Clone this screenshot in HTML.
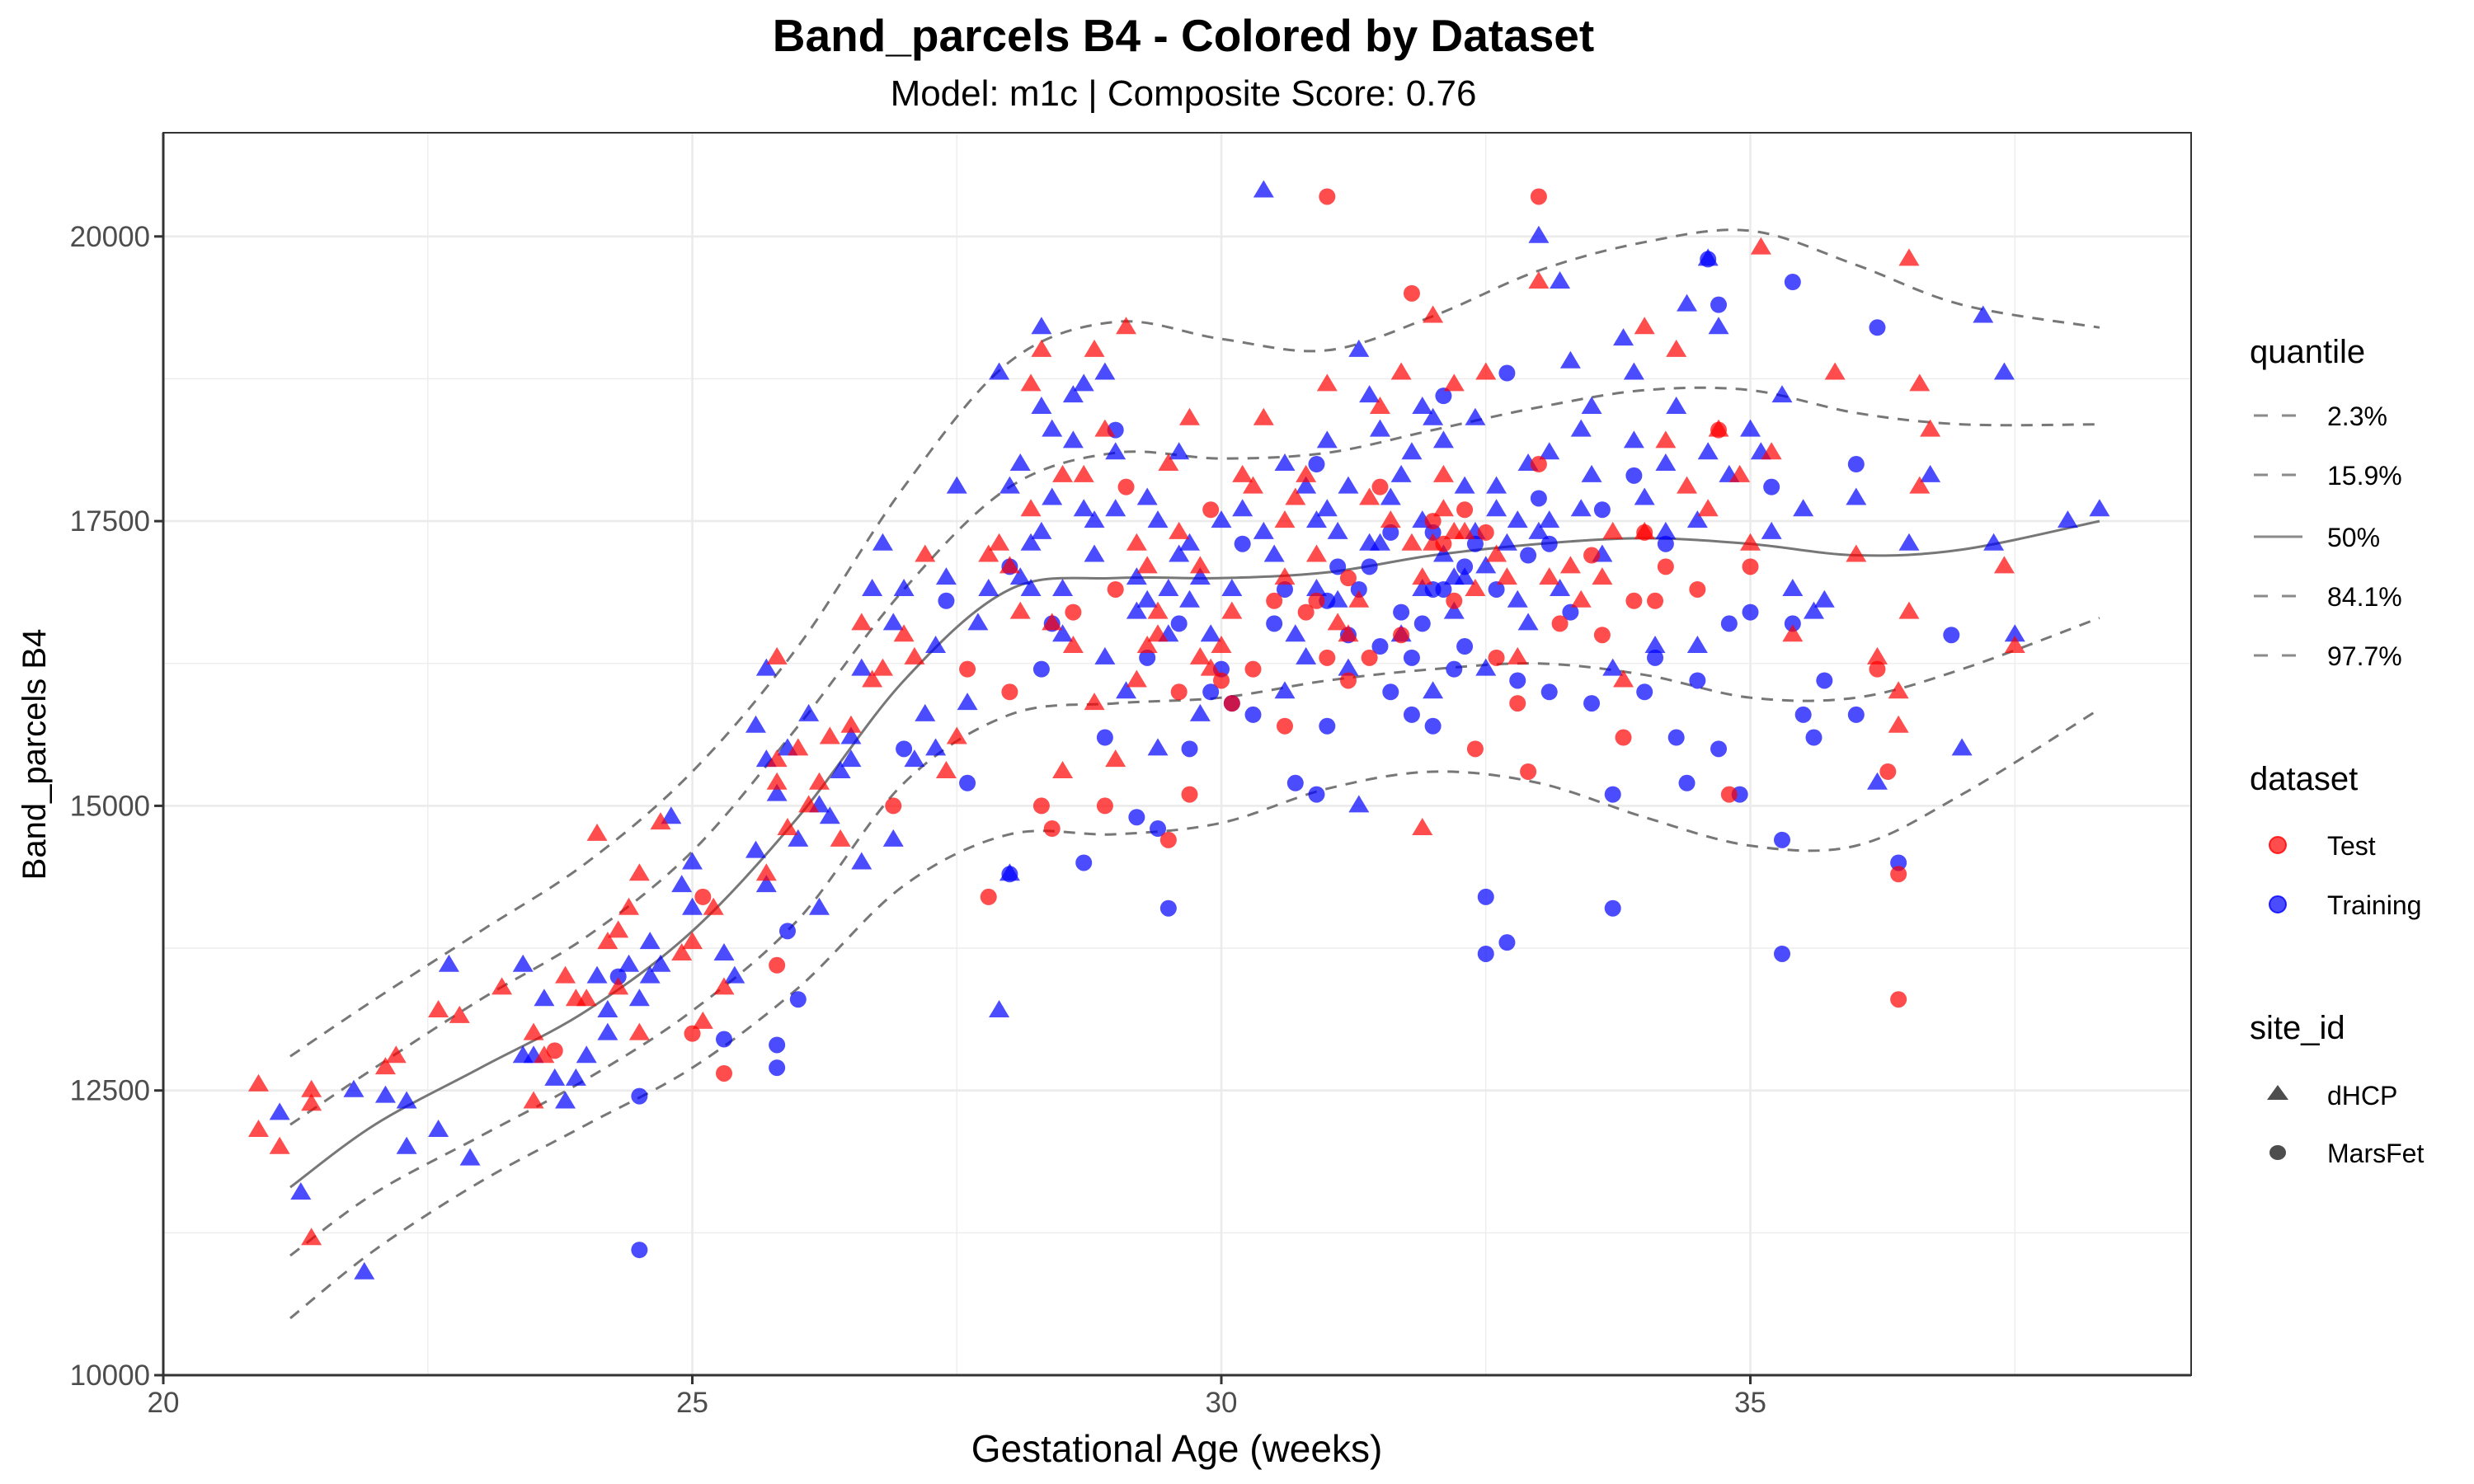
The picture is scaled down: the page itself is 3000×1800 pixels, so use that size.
<!DOCTYPE html>
<html><head><meta charset="utf-8"><style>
html,body{margin:0;padding:0;background:#fff}
svg{display:block;font-family:"Liberation Sans",Arial,sans-serif}
</style></head><body>
<svg id="chart" width="3000" height="1800" viewBox="0 0 3000 1800" xmlns="http://www.w3.org/2000/svg">
<rect width="3000" height="1800" fill="#fff"/>
<text x="1435" y="62" text-anchor="middle" font-size="55" font-weight="bold" fill="#000">Band_parcels B4 - Colored by Dataset</text>
<text x="1435" y="128" text-anchor="middle" font-size="44" fill="#000">Model: m1c | Composite Score: 0.76</text>
<g id="grid"></g>
<g id="curves"></g>
<g id="points"></g>
<rect x="198" y="161" width="2459" height="1507" fill="none" stroke="#333" stroke-width="2"/>
<g id="axes"></g>
<text x="1427" y="1773" text-anchor="middle" font-size="46" fill="#000">Gestational Age (weeks)</text>
<text transform="translate(55,915) rotate(-90)" text-anchor="middle" font-size="40" fill="#000">Band_parcels B4</text>
<g id="legend">
<text x="2728" y="440" font-size="40" fill="#000">quantile</text>
<g><line x1="2733" y1="504" x2="2790" y2="504" stroke="#8a8a8a" stroke-width="3" stroke-dasharray="17 17"/><text x="2822" y="516" font-size="32">2.3%</text></g>
<g><line x1="2733" y1="576" x2="2790" y2="576" stroke="#8a8a8a" stroke-width="3" stroke-dasharray="17 17"/><text x="2822" y="588" font-size="32">15.9%</text></g>
<g><line x1="2733" y1="651" x2="2792" y2="651" stroke="#8a8a8a" stroke-width="3"/><text x="2822" y="663" font-size="32">50%</text></g>
<g><line x1="2733" y1="723" x2="2790" y2="723" stroke="#8a8a8a" stroke-width="3" stroke-dasharray="17 17"/><text x="2822" y="735" font-size="32">84.1%</text></g>
<g><line x1="2733" y1="795" x2="2790" y2="795" stroke="#8a8a8a" stroke-width="3" stroke-dasharray="17 17"/><text x="2822" y="807" font-size="32">97.7%</text></g>
<text x="2728" y="958" font-size="40" fill="#000">dataset</text>
<g><circle cx="2762" cy="1025" r="10" fill="rgba(255,0,0,0.7)" stroke="rgba(255,0,0,0.8)" stroke-width="2"/><text x="2822" y="1037" font-size="32">Test</text></g>
<g><circle cx="2762" cy="1097" r="10" fill="rgba(0,0,255,0.7)" stroke="rgba(0,0,255,0.8)" stroke-width="2"/><text x="2822" y="1109" font-size="32">Training</text></g>
<text x="2728" y="1260" font-size="40" fill="#000">site_id</text>
<g><polygon points="2762,1316 2775,1334 2749,1334" fill="#4d4d4d"/><text x="2822" y="1340" font-size="32">dHCP</text></g>
<g><ellipse cx="2762" cy="1398" rx="10" ry="9" fill="#4d4d4d"/><text x="2822" y="1410" font-size="32">MarsFet</text></g>
</g>
</svg>
<script>
const xTicks=[20,25,30,35];
const yTicks=[10000,12500,15000,17500,20000];
const qAges=[21.2,22,23,24,25,26,27,28,29,30,31,32,33,34,35,36,37,38.3];
const q023=[10500,11100,11700,12200,12700,13400,14300,14750,14750,14850,15150,15300,15200,14900,14650,14650,15100,15850];
const q159=[11050,11600,12100,12600,13200,14000,15200,15800,15900,15950,16100,16200,16250,16150,15950,15950,16200,16650];
const q500=[11650,12200,12700,13200,13900,14900,16100,16900,17000,17000,17050,17200,17300,17350,17300,17200,17250,17500];
const q841=[12200,12700,13300,13850,14600,15700,16900,17800,18100,18050,18100,18300,18500,18650,18650,18450,18350,18350];
const q977=[12800,13300,13900,14500,15300,16400,17800,18900,19250,19100,19000,19300,19700,19950,20050,19750,19400,19200];
const testTriangle=[[20.9,12550],[20.9,12150],[21.1,12000],[21.4,12500],[21.4,12380],[21.4,11200],[22.1,12700],[22.2,12800],[22.6,13200],[22.8,13150],[23.2,13400],[23.5,12400],[23.5,13000],[23.6,12800],[23.8,13500],[24.1,14750],[24.0,13300],[24.3,13900],[24.4,14100],[24.5,14400],[24.5,13000],[24.7,14850],[24.9,13700],[25.0,13800],[25.1,13100],[25.2,14100],[25.3,13400],[23.9,13300],[24.3,13400],
[25.8,16300],[25.8,15400],[25.8,15200],[25.9,14800],[26.0,15500],[26.2,15200],[26.4,14700],[26.5,15700],[26.6,16600],[26.7,16100],[26.8,16200],[27.0,16500],[27.1,16300],[27.2,17200],[27.4,15300],[27.5,15600],[26.1,15000],[25.7,14400],
[27.9,17300],[28.0,17100],[28.1,16700],[28.3,19000],[28.2,18700],[28.4,16600],[28.6,16400],[28.7,17900],[28.8,19000],[28.9,18300],[29.0,15400],[29.1,19200],[29.3,17100],[29.4,16500],[29.5,18000],[29.6,17400],[29.7,18400],[29.8,16300],[29.9,16200],[30.0,16400],[28.5,15300],[28.8,15900],[29.2,16100],[29.4,16700],[28.2,17600],
[30.4,18400],[30.6,17000],[30.8,17900],[30.9,17200],[31.0,18700],[31.2,16500],[31.4,17700],[31.5,18500],[31.7,18800],[31.9,17000],[32.0,19300],[32.1,17900],[32.2,18700],[32.3,17400],[32.5,18800],[32.6,17200],[32.8,16300],[33.0,19600],[33.1,17000],[33.3,17100],[31.9,14800],[30.6,17500],[31.3,16800],[32.0,17300],[32.4,16900],[30.3,17800],
[33.6,17000],[33.7,17400],[33.8,16100],[34.0,19200],[34.2,18200],[34.4,17800],[34.6,17600],[34.7,18300],[35.0,17300],[35.1,19900],[35.2,18100],[35.4,16500],[35.8,18800],[36.0,17200],[36.2,16300],[36.4,16000],[36.5,16700],[36.5,19800],[36.6,17800],[36.7,18300],[37.4,17100],[37.5,16400],[36.6,18700],[34.3,19000],[34.0,17400],[36.4,15700],
[24.2,13800],[26.3,15600],[27.8,17200],[28.5,17900],[29.2,17300],[29.8,17100],[30.2,17900],[30.7,17700],[31.1,16600],[31.6,17500],[32.1,17600],[32.2,17400],[32.7,17000],[33.4,16800],[30.1,16700],[29.3,16400],[31.8,17300],[34.9,17900]];
const testCircle=[[23.7,12850],[25.0,13000],[25.3,12650],[25.1,14200],[25.8,13600],[26.9,15000],[27.6,16200],
[27.8,14200],[28.0,16000],[28.3,15000],[28.4,14800],[28.6,16700],[29.1,17800],[29.5,14700],[29.6,16000],[29.7,15100],[30.0,16100],[28.9,15000],[29.9,17600],
[30.3,16200],[30.6,15700],[30.8,16700],[31.0,20350],[31.0,16300],[31.2,16100],[31.5,17800],[31.8,19500],[32.0,17500],[32.2,16800],[32.4,15500],[32.6,16300],[32.8,15900],[33.0,20350],[33.0,18000],[32.9,15300],[31.7,16500],[30.9,16800],[32.3,17600],[33.2,16600],
[33.6,16500],[33.8,15600],[34.0,17400],[34.2,17100],[34.5,16900],[34.7,18300],[34.8,15100],[35.0,17100],[36.3,15300],[36.4,14400],[36.4,13300],[33.9,16800],[36.2,16200],[34.1,16800],
[30.5,16800],[31.2,17000],[32.5,17400],[32.1,17300],[33.5,17200],[29.0,16900],[30.1,15900],[31.4,16300]];
const trainTriangle=[[21.1,12300],[21.3,11600],[21.8,12500],[21.9,10900],[22.1,12450],[22.3,12400],[22.3,12000],[22.6,12150],[22.7,13600],[22.9,11900],[23.4,13600],[23.5,12800],[23.6,13300],[23.7,12600],[23.8,12400],[24.0,12800],[24.1,13500],[24.2,13200],[24.4,13600],[24.5,13300],[24.6,13800],[24.7,13600],[24.8,14900],[24.9,14300],[25.0,14500],[25.0,14100],[25.3,13700],[25.4,13500],[25.6,14600],[25.7,14300],[24.2,13000],[24.6,13500],[23.4,12800],[23.9,12600],
[25.6,15700],[25.7,15400],[25.8,15100],[25.9,15500],[26.0,14700],[26.1,15800],[26.2,15000],[26.3,14900],[26.4,15300],[26.5,15600],[26.6,14500],[26.6,16200],[26.7,16900],[26.8,17300],[26.9,16600],[27.0,16900],[27.1,15400],[27.2,15800],[27.3,16400],[27.4,17000],[27.5,17800],[27.6,15900],[27.7,16600],[26.2,14100],[25.7,16200],[26.9,14700],[27.3,15500],[26.5,15400],
[27.9,18800],[28.0,17800],[28.1,18000],[28.2,17300],[28.3,19200],[28.3,18500],[28.4,17700],[28.5,16500],[28.6,18200],[28.7,18700],[28.8,17200],[28.9,18800],[29.0,17600],[29.1,16000],[29.2,17000],[29.3,16800],[29.4,17500],[29.5,16500],[29.6,18100],[29.7,16800],[29.8,17000],[29.9,16500],[30.0,17500],[28.1,17000],[28.5,16900],[28.9,16300],[29.4,15500],[29.8,15800],[27.9,13200],[28.0,14400],[28.8,17500],[29.2,16700],[29.6,17200],[30.1,16900],[28.6,18600],[28.2,16900],
[30.4,20400],[30.5,17200],[30.7,16500],[30.8,17800],[30.9,16900],[31.0,18200],[31.1,17400],[31.2,16200],[31.3,19000],[31.4,17300],[31.5,18300],[31.6,17700],[31.7,16500],[31.8,18100],[31.9,17500],[32.0,18400],[32.1,17200],[32.2,16700],[32.3,17800],[32.4,17400],[32.5,17100],[32.6,17600],[32.7,17300],[32.8,16800],[32.9,18000],[33.0,20000],[33.1,17500],[33.2,16900],[31.3,15000],[32.0,16000],[32.5,16200],[30.6,16000],[31.9,18500],[32.2,17000],[31.0,17600],[33.2,19600],[33.3,18900],
[33.4,18300],[33.5,18500],[33.6,17200],[33.7,16200],[33.8,19100],[33.9,18800],[34.0,17700],[34.1,16400],[34.2,18000],[34.4,19400],[34.5,17500],[34.6,19800],[34.7,19200],[34.8,17900],[35.0,18300],[35.2,17400],[35.3,18600],[35.4,16900],[35.7,16800],[36.0,17700],[36.2,15200],[36.5,17300],[36.7,17900],[37.2,19300],[37.3,17300],[37.4,18800],[37.5,16500],[38.0,17500],[38.3,17600],[37.0,15500],[33.4,17600],[34.5,16400],[35.6,16700],
[28.4,18300],[28.7,17600],[29.0,18100],[29.3,17700],[29.7,17300],[30.2,17600],[30.4,17400],[30.6,18000],[30.9,17500],[31.2,17800],[31.5,17300],[31.7,17900],[31.9,16900],[32.1,18200],[32.3,17000],[32.4,18400],[32.6,17800],[32.8,17500],[33.1,18100],[33.5,17900],[33.9,18200],[34.2,17400],[34.6,18100],[35.1,18100],[35.5,17600],[31.4,18600],[30.8,16300],[29.5,16900],[31.1,16800],[32.9,16600],[27.8,16900],[28.3,17400],[33.0,17400],[34.3,18500]];
const trainCircle=[[24.5,11100],[24.5,12450],[24.3,13500],[25.3,12950],
[25.8,12900],[25.8,12700],[25.9,13900],[26.0,13300],[27.0,15500],[27.4,16800],[27.6,15200],
[28.0,17100],[28.3,16200],[28.7,14500],[28.9,15600],[29.0,18300],[29.2,14900],[29.4,14800],[29.5,14100],[29.7,15500],[29.9,16000],[30.1,15900],[30.2,17300],[28.4,16600],[29.3,16300],[28.0,14400],
[30.3,15800],[30.5,16600],[30.7,15200],[30.9,15100],[31.0,16800],[31.1,17100],[31.3,16900],[31.4,17100],[31.6,16000],[31.7,16700],[31.8,15800],[31.9,16600],[32.0,15700],[32.1,16900],[32.2,16200],[32.3,17100],[32.5,14200],[32.5,13700],[32.7,13800],[32.8,16100],[32.9,17200],[33.0,17700],[33.1,17300],[31.6,17400],[32.1,18600],[32.4,17300],[30.9,18000],[31.5,16400],[32.7,18800],[33.1,16000],[32.0,16900],
[33.7,14100],[33.7,15100],[33.5,15900],[33.9,17900],[34.1,16300],[34.3,15600],[34.4,15200],[34.7,15500],[34.8,16600],[34.9,15100],[35.2,17800],[35.3,14700],[35.3,13700],[35.4,16600],[35.6,15600],[35.7,16100],[36.0,18000],[36.2,19200],[36.4,14500],[35.4,19600],[36.9,16500],[34.6,19800],[34.7,19400],[35.5,15800],
[30.0,16200],[30.6,16900],[31.2,16500],[31.8,16300],[32.0,17400],[32.6,16900],[33.3,16700],[34.0,16000],[34.5,16100],[35.0,16700],[36.0,15800],[31.0,15700],[32.3,16400],[33.6,17600],[29.6,16600],[34.2,17300]];

const NS="http://www.w3.org/2000/svg";
const L=198,R=2657,T=161,B=1668;
const xMin=20,xMax=20+(R-L)/128.3, yMin=10000,yMax=10000+(B-T)/345.3*2500;
const sx=v=>L+(v-xMin)/(xMax-xMin)*(R-L);
const sy=v=>B-(v-yMin)/(yMax-yMin)*(B-T);
function mk(tag,attrs,parent){const e=document.createElementNS(NS,tag);for(const k in attrs)e.setAttribute(k,attrs[k]);parent.appendChild(e);return e;}

const grid=document.getElementById('grid');
for(let v=yMin+1250;v<yMax;v+=1250){const major=(v%2500===0);const e=mk('line',{x1:L,x2:R,y1:sy(v),y2:sy(v),stroke:'#ebebeb','stroke-width':major?2.6:1.3},grid);

}
for(let v=22.5;v<xMax;v+=2.5){const major=(v%5===0);const e=mk('line',{x1:sx(v),x2:sx(v),y1:T,y2:B,stroke:'#ebebeb','stroke-width':major?2.6:1.3},grid);

}

const axes=document.getElementById('axes');
const xl=mk('line',{x1:L,x2:R,y1:B,y2:B,stroke:'#333','stroke-width':3},axes);


const yl=mk('line',{x1:L,x2:L,y1:T,y2:B,stroke:'#333','stroke-width':3},axes);


xTicks.forEach(t=>{const tk=mk('line',{x1:sx(t),x2:sx(t),y1:B,y2:B+11,stroke:'#333','stroke-width':3},axes);


const tx=mk('text',{x:sx(t),y:B+45,'text-anchor':'middle','font-size':35,fill:'#4d4d4d'},axes);tx.textContent=t;

});
yTicks.forEach(t=>{const tk=mk('line',{x1:L-11,x2:L,y1:sy(t),y2:sy(t),stroke:'#333','stroke-width':3},axes);


const tx=mk('text',{x:L-16,y:sy(t)+12,'text-anchor':'end','font-size':35,fill:'#4d4d4d'},axes);tx.textContent=t;

});

function smooth(xs,ys){const p=xs.map((x,i)=>[sx(x),sy(ys[i])]);let d='M'+p[0][0]+','+p[0][1];
for(let i=0;i<p.length-1;i++){const p0=p[Math.max(0,i-1)],p1=p[i],p2=p[i+1],p3=p[Math.min(p.length-1,i+2)];
const c1=[p1[0]+(p2[0]-p0[0])/6,p1[1]+(p2[1]-p0[1])/6],c2=[p2[0]-(p3[0]-p1[0])/6,p2[1]-(p3[1]-p1[1])/6];
d+=' C'+c1[0]+','+c1[1]+' '+c2[0]+','+c2[1]+' '+p2[0]+','+p2[1];}return d;}
const curves=document.getElementById('curves');
[[q023,'quantile-2.3-line',true],[q159,'quantile-15.9-line',true],[q500,'quantile-50-line',false],[q841,'quantile-84.1-line',true],[q977,'quantile-97.7-line',true]].forEach(([ys,name,dash])=>{
const e=mk('path',{d:smooth(qAges,ys),fill:'none',stroke:'#777','stroke-width':3},curves);
if(dash)e.setAttribute('stroke-dasharray','14 11');

});

const pts=document.getElementById('points');
function tri(a,v,col,name){const x=sx(a),y=sy(v);const e=mk('polygon',{points:`${x},${y-13} ${x+12.5},${y+8} ${x-12.5},${y+8}`,fill:col},pts);

}
function circ(a,v,col,name){const e=mk('circle',{cx:sx(a),cy:sy(v),r:10,fill:col},pts);

}
const RED='rgba(255,0,0,0.7)',BLUE='rgba(0,0,255,0.7)';
trainCircle.forEach(p=>circ(p[0],p[1],BLUE,'training-marsfet-point'));
trainTriangle.forEach(p=>tri(p[0],p[1],BLUE,'training-dhcp-point'));
testCircle.forEach(p=>circ(p[0],p[1],RED,'test-marsfet-point'));
testTriangle.forEach(p=>tri(p[0],p[1],RED,'test-dhcp-point'));
</script>
</body></html>
